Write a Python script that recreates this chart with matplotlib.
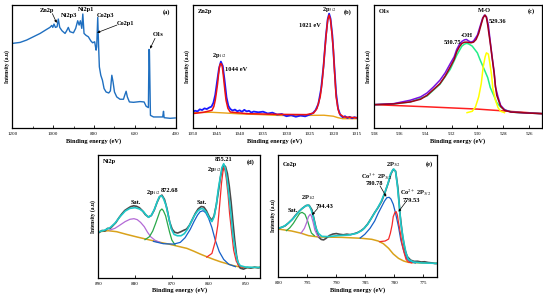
import matplotlib
matplotlib.use('Agg')
import matplotlib.pyplot as plt

plt.rcParams['font.family'] = ['Liberation Serif', 'DejaVu Serif']
plt.rcParams['mathtext.fontset'] = 'stix'
plt.rcParams['axes.linewidth'] = 0.9

# ---- (a) survey ----
survey_e = [1200, 1162, 1130, 1097, 1064, 1032, 1016, 1007, 1002, 996, 989, 981, 975, 968,
            957, 942, 934, 926, 918, 901, 890, 880, 873, 867, 860, 855, 849, 839, 828, 816,
            807, 797, 790, 787, 782, 777, 774, 767, 759, 751, 741, 728, 720, 713, 707, 700,
            689, 673, 656, 650, 643, 637, 627, 607, 575, 555, 545, 534, 531, 529, 524, 509,
            477, 464, 460, 457, 428, 403]
survey_i = [68.8, 69.6, 71.5, 74.2, 76.9, 80.2, 81.8, 83.4, 81.8, 84.5, 81.8, 82.3, 88.6, 81.8,
            79.1, 76.9, 79.1, 81.8, 78.3, 77.4, 81.0, 87.2, 83.7, 87.2, 81.0, 92.7, 76.9, 75.3,
            74.2, 70.9, 69.3, 70.1, 63.3, 66.0, 89.9, 63.3, 49.7, 42.9, 38.9, 32.1, 29.3, 28.5,
            30.2, 42.9, 37.5, 29.3, 25.3, 23.4, 23.4, 26.6, 29.9, 25.3, 21.2, 20.9, 21.5, 21.2,
            17.7, 16.6, 63.9, 63.0, 10.3, 9.0, 9.0, 9.0, 13.6, 8.4, 7.9, 8.2]

# ---- (b) Zn2p ----
zn_raw_e = [1050, 1049.5, 1049, 1048.5, 1048, 1047.5, 1047, 1046.5, 1046, 1045.6, 1045.2, 1044.8,
            1044.4, 1044.0, 1043.6, 1043.2, 1042.8, 1042.4, 1042, 1041.5, 1041, 1040.5, 1040,
            1039.5, 1039, 1038.5, 1038, 1037.5, 1037, 1036, 1035, 1034, 1033, 1032, 1031, 1030,
            1029, 1028, 1027, 1026, 1025, 1024.4, 1023.8, 1023.2, 1022.6, 1022.1, 1021.6, 1021.2,
            1020.9, 1020.6, 1020.2, 1019.8, 1019.4, 1019, 1018.5, 1018, 1017.5, 1017, 1016.5,
            1016, 1015.5, 1015]
zn_raw_i = [13.0, 14.1, 13.5, 15.2, 14.6, 16.0, 15.4, 16.6, 17.4, 20.5, 27.0, 38.0, 48.5, 54.0,
            50.5, 38.5, 25.0, 18.0, 15.5, 14.2, 15.0, 13.6, 14.4, 13.2, 14.8, 13.5, 14.0, 12.6,
            13.4, 12.8, 13.3, 11.8, 12.5, 10.9, 11.4, 9.6, 10.4, 9.2, 10.1, 9.5, 11.0, 12.0, 14.5,
            19.5, 32.0, 50.0, 74.0, 88.5, 93.0, 89.0, 75.0, 51.0, 28.0, 16.0, 10.5, 8.8, 9.6, 8.2,
            9.1, 7.9, 8.8, 8.3]
zn_fit_e = [1050.0, 1047.7, 1045.9, 1045.5, 1045.2, 1044.95, 1044.7, 1044.5, 1044.3, 1044.15,
            1044.0, 1043.85, 1043.7, 1043.5, 1043.3, 1043.1, 1042.9, 1042.5, 1042.0, 1038.5,
            1031.4, 1025.7, 1024.2, 1023.5, 1022.8, 1022.4, 1022.1, 1021.8, 1021.5, 1021.2,
            1020.9, 1020.6, 1020.3, 1020.0, 1019.8, 1019.6, 1019.4, 1019.0, 1018.7, 1017.8,
            1015.0]
zn_fit_i = [11.7, 12.8, 14.4, 17.5, 22.6, 29.0, 36.1, 43.5, 49.7, 51.8, 52.4, 51.8, 49.7, 43.5,
            36.1, 29.0, 22.6, 16.0, 13.0, 11.7, 11.1, 10.9, 12.2, 15.8, 25.3, 37.0, 49.7, 64.0,
            76.9, 87.8, 91.8, 87.8, 76.9, 64.0, 49.7, 37.0, 25.3, 15.5, 11.7, 9.0, 8.4]
zn_bg_e = [1050, 1046, 1043, 1040, 1036, 1032, 1028, 1025, 1022, 1020, 1019, 1018, 1015]
zn_bg_i = [12.5, 12.8, 12.2, 11.5, 11.0, 10.3, 10.0, 10.3, 10.4, 9.6, 8.4, 7.6, 7.6]

# ---- (c) O1s ----
o_bg_e = [538, 534, 530, 527, 525]
o_bg_i = [19.0, 17.3, 15.4, 13.2, 11.7]
o_fit_e = [538.0, 536.5, 535.2, 534.4, 533.9, 533.4, 532.9, 532.5, 532.1, 531.8, 531.6, 531.4,
           531.2, 531.0, 530.8, 530.5, 530.3, 530.1, 529.9, 529.7, 529.55, 529.4, 529.3, 529.2,
           529.0, 528.85, 528.7, 528.6, 528.5, 528.2, 527.9, 527.4, 526.1, 525.0]
o_fit_i = [19.0, 19.6, 21.2, 23.4, 26.6, 31.3, 36.1, 42.1, 49.7, 55.7, 62.0, 66.0, 68.8, 69.8,
           69.8, 69.3, 69.8, 72.0, 76.9, 84.5, 89.9, 91.8, 89.9, 83.7, 68.8, 56.5, 44.3, 34.0,
           26.6, 17.7, 14.4, 13.0, 12.2, 11.7]
o_raw_e = [538, 536.5, 535.2, 534.4, 533.9, 533.4, 532.9, 532.5, 532.1, 531.8, 531.6, 531.4,
           531.2, 531.0, 530.85, 530.7, 530.5, 530.3, 530.0, 529.8, 529.6, 529.45, 529.3, 529.15,
           529.0, 528.85, 528.7, 528.6, 528.4, 528.2, 527.9, 527.4, 526.1, 525.0]
o_raw_i = [19.0, 19.8, 22.6, 25.3, 28.5, 33.4, 38.9, 44.8, 52.4, 57.9, 63.9, 67.9, 70.4, 71.7,
           72.0, 70.9, 69.8, 70.7, 75.5, 82.3, 89.1, 91.8, 90.5, 83.7, 70.1, 57.3, 45.7, 33.4,
           25.3, 18.5, 14.9, 13.0, 12.2, 11.7]
o_oh_e = [538, 536.5, 535.2, 533.9, 532.9, 532.1, 531.6, 531.2, 531.0, 530.85, 530.7, 530.4,
          530.0, 529.8, 529.5, 529.2, 529.0, 528.7, 528.5, 528.2, 527.8, 527.2, 526.1, 525.0]
o_oh_i = [19.0, 19.6, 21.2, 26.1, 35.6, 47.8, 59.2, 66.6, 68.2, 68.8, 68.5, 66.6, 61.1, 55.7,
          48.4, 41.0, 32.9, 25.8, 20.7, 17.1, 14.4, 12.8, 12.2, 11.7]
o_mo_e = [530.8, 530.4, 530.15, 529.9, 529.7, 529.55, 529.4, 529.3, 529.15, 529.05, 528.9, 528.8,
          528.6, 528.4, 528.2, 527.9]
o_mo_i = [12.5, 13.6, 17.1, 25.3, 36.1, 49.7, 57.9, 61.1, 60.1, 53.8, 42.9, 32.1, 22.6, 16.6,
          13.6, 12.5]

# ---- (d) Ni2p ----
ni_bg_e = [889.7, 887.3, 885.0, 882.3, 879.5, 876.8, 873.2, 870.5, 868.6, 865.9, 864.1, 862.3,
           860.5, 858.6, 856.8, 855.0, 853.2, 851.4, 849.5, 845.9]
ni_bg_i = [37.5, 38.3, 37.5, 35.3, 33.2, 31.3, 28.8, 27.2, 25.8, 23.9, 21.7, 19.3, 17.1, 14.9,
           13.0, 11.4, 9.8, 8.7, 8.2, 8.4]
ni_raw_e = [889.7, 889, 888.2, 887.5, 886.8, 886, 885.2, 884.4, 883.6, 882.8, 882, 881.2, 880.4,
            879.6, 878.8, 878, 877.2, 876.4, 875.6, 874.8, 874, 873.3, 872.7, 872, 871.3, 870.6,
            869.9, 869.2, 868.4, 867.6, 866.8, 866, 865.2, 864.4, 863.6, 862.8, 862, 861.3,
            860.6, 859.8, 859.1, 858.5, 857.9, 857.3, 856.8, 856.3, 855.9, 855.4, 854.9, 854.4,
            853.9, 853.4, 852.9, 852.4, 851.9, 851.4, 850.5, 849.5, 848.5, 847.5, 846.5, 846]
ni_raw_i = [37.0, 38.5, 38.0, 40.2, 40.0, 42.5, 45.0, 48.8, 52.0, 54.8, 56.4, 57.9, 58.6, 58.2,
            57.0, 54.6, 51.4, 49.5, 50.6, 55.0, 61.5, 66.0, 67.3, 63.8, 56.0, 45.5, 39.5, 37.0,
            36.4, 37.4, 38.6, 39.6, 42.8, 47.6, 52.5, 56.2, 58.0, 57.6, 54.6, 49.5, 46.8, 50.5,
            59.5, 71.0, 81.5, 88.5, 91.8, 90.5, 85.0, 75.0, 62.0, 46.0, 30.5, 18.0, 10.5, 7.8,
            7.0, 8.3, 7.8, 8.6, 8.0, 8.4]
ni_env_e = [889.7, 888.2, 886.8, 885.5, 884.1, 882.7, 881.4, 880.0, 878.8, 877.7, 877.0, 876.3,
            875.5, 874.7, 873.9, 873.4, 872.8, 872.3, 871.6, 870.9, 870.2, 869.4, 868.5, 867.5,
            866.6, 865.7, 864.8, 863.9, 863.0, 862.1, 861.4, 860.6, 859.8, 859.1, 858.5, 857.9,
            857.4, 856.8, 856.4, 855.9, 855.5, 855.0, 854.5, 853.9, 853.4, 852.7, 852.1, 851.4,
            850.0, 847.7, 845.9]
ni_env_i = [37.5, 38.9, 40.8, 44.3, 49.7, 54.3, 56.5, 57.1, 56.0, 53.8, 51.1, 49.2, 51.1, 56.0,
            62.5, 66.0, 66.8, 64.7, 59.2, 49.7, 40.2, 35.3, 34.2, 34.2, 35.9, 39.7, 45.1, 50.5,
            54.3, 56.3, 56.0, 53.3, 48.4, 45.7, 49.7, 59.2, 71.5, 82.3, 89.7, 92.9, 89.7, 81.0,
            67.4, 51.1, 34.8, 21.2, 13.0, 9.8, 8.7, 8.4, 8.4]
ni_sat1_e = [886.8, 885.5, 884.1, 882.7, 881.4, 880.3, 879.4, 878.5, 877.5, 876.6, 875.7, 874.5, 873.2]
ni_sat1_i = [38.9, 40.2, 42.9, 45.7, 47.6, 48.1, 47.3, 45.1, 41.6, 37.0, 33.2, 30.4, 28.8]
ni_p12_e = [877.3, 876.1, 875.2, 874.4, 873.6, 873.2, 872.7, 872.3, 871.7, 871.2, 870.6, 870.0, 869.1]
ni_p12_i = [31.0, 33.4, 38.0, 44.3, 51.1, 54.6, 56.0, 54.6, 50.5, 44.3, 37.0, 30.7, 26.6]
ni_sat2_e = [875.0, 872.3, 869.5, 867.7, 866.4, 865.0, 863.9, 863.0, 862.3, 861.5, 860.8, 860.0,
             859.1, 858.2, 857.1, 855.9, 854.5, 852.7]
ni_sat2_i = [29.6, 27.7, 27.4, 28.8, 32.6, 39.4, 46.2, 51.1, 53.8, 54.6, 53.0, 48.4, 40.8, 30.7,
             21.2, 14.9, 10.9, 9.0]
ni_p32_e = [860.5, 859.1, 858.2, 857.5, 857.0, 856.5, 856.1, 855.8, 855.6, 855.2, 854.7, 854.3,
            853.7, 853.2, 852.5, 851.8, 850.6]
ni_p32_i = [16.8, 19.8, 29.3, 42.9, 59.2, 76.9, 86.4, 89.7, 88.6, 81.0, 67.4, 52.4, 36.1, 22.6,
            13.6, 9.8, 8.4]

# ---- (e) Co2p ----
co_bg_e = [800.0, 797.7, 796.0, 794.8, 793.1, 789.1, 785.6, 783.9, 782.8, 781.9, 781.0, 780.2,
           779.3, 778.4, 777.6, 775.3, 772.6]
co_bg_i = [39.3, 37.7, 35.8, 33.9, 32.8, 32.5, 31.7, 30.9, 29.5, 27.3, 23.5, 18.9, 15.3, 13.1,
           12.0, 11.5, 11.2]
co_raw_e = [800.0, 799.4, 798.8, 798.2, 797.6, 797.0, 796.4, 795.8, 795.2, 794.7, 794.2, 793.8,
            793.4, 793.0, 792.6, 792.2, 791.8, 791.2, 790.6, 790.0, 789.4, 788.8, 788.2, 787.6,
            787.0, 786.4, 785.8, 785.2, 784.6, 784.0, 783.4, 782.8, 782.2, 781.6, 781.0, 780.6,
            780.2, 779.8, 779.4, 779.0, 778.6, 778.2, 777.8, 777.2, 776.6, 776.0, 775.4, 774.8,
            774.2, 773.6, 773.0, 772.6]
co_raw_i = [39.6, 40.8, 42.0, 44.5, 47.2, 50.8, 54.0, 56.5, 58.6, 58.8, 55.0, 46.5, 38.0, 32.5,
            30.8, 30.4, 31.6, 34.0, 35.2, 35.6, 35.0, 34.6, 35.1, 34.7, 35.4, 36.3, 37.8, 40.0,
            43.5, 48.0, 52.8, 57.0, 62.0, 69.5, 78.0, 84.5, 88.2, 86.8, 73.0, 50.0, 33.5, 22.5,
            16.8, 13.8, 12.8, 12.9, 12.3, 12.5, 11.9, 11.6, 11.0, 11.1]
co_env_e = [800.0, 799.1, 798.3, 797.4, 796.7, 796.0, 795.4, 794.9, 794.6, 794.3, 793.9, 793.6,
            793.1, 792.5, 791.4, 789.7, 787.9, 786.5, 785.5, 784.6, 783.8, 783.0, 782.3, 781.7,
            781.1, 780.7, 780.3, 780.1, 779.8, 779.5, 779.2, 778.9, 778.4, 778.0, 777.6, 776.7,
            775.3, 772.6]
co_env_i = [39.9, 41.3, 44.0, 48.1, 52.2, 55.7, 57.9, 59.0, 57.9, 54.6, 48.1, 41.3, 35.8, 33.3,
            33.1, 33.9, 34.4, 35.8, 38.5, 43.2, 49.5, 55.7, 61.7, 68.6, 76.8, 84.2, 87.7, 88.5,
            86.3, 75.4, 60.4, 44.0, 29.0, 19.4, 14.5, 12.3, 11.5, 11.2]
co_sat_e = [798.6, 798.0, 797.4, 796.8, 796.3, 795.9, 795.4, 795.0, 794.6, 794.3, 793.8]
co_sat_i = [38.0, 40.4, 44.0, 48.6, 52.2, 53.0, 51.4, 46.7, 40.4, 36.1, 33.9]
co_p12_e = [796.1, 795.5, 795.1, 794.8, 794.5, 794.3, 794.0, 793.7, 793.3, 793.0]
co_p12_i = [35.8, 39.9, 44.8, 49.5, 51.4, 50.0, 44.8, 38.5, 34.4, 32.8]
co3_e = [785.9, 785.1, 784.2, 783.4, 782.8, 782.2, 781.7, 781.3, 780.9, 780.6, 780.2, 779.8,
         779.3, 778.9, 778.4, 777.9, 777.3, 776.4]
co3_i = [32.0, 35.0, 39.9, 45.9, 52.2, 57.7, 62.3, 65.0, 65.3, 63.9, 59.6, 52.2, 41.3, 30.3,
         21.3, 15.3, 12.6, 11.5]
co2_e = [782.5, 781.6, 781.0, 780.7, 780.4, 780.2, 779.9, 779.7, 779.5, 779.3, 779.0, 778.7,
         778.3, 778.0, 777.6, 777.0]
co2_i = [29.0, 29.5, 31.1, 35.8, 42.6, 49.5, 53.0, 53.6, 50.8, 44.8, 36.6, 27.6, 19.4, 14.5,
         12.3, 11.5]

fig = plt.figure(figsize=(5.43, 2.95), dpi=100)
ax_a = fig.add_axes([0.0227, 0.566, 0.301, 0.417])
ax_b = fig.add_axes([0.355, 0.566, 0.302, 0.417])
ax_c = fig.add_axes([0.689, 0.566, 0.309, 0.417])
ax_d = fig.add_axes([0.181, 0.0586, 0.298, 0.416])
ax_e = fig.add_axes([0.5125, 0.061, 0.293, 0.4136])

fs = 4.6
tick_fs = 3.6


def style(ax, xlim, xticks, minor=None):
    ax.set_xlim(xlim)
    ax.set_ylim(0, 100)
    ax.set_xticks(xticks)
    if minor is not None:
        ax.set_xticks(minor, minor=True)
    ax.set_yticks([])
    ax.tick_params(axis='x', direction='in', length=2, width=0.6, labelsize=tick_fs, pad=3)
    ax.tick_params(axis='x', which='minor', direction='in', length=1.2, width=0.5)
    ax.set_xlabel('Binding energy (eV)', fontsize=fs, fontweight='bold', labelpad=1.2)
    ax.set_ylabel('Intensity (a.u)', fontsize=fs - 0.6, fontweight='bold', labelpad=2)


def label(ax, x, y, s, ha='center'):
    ax.text(x, y, s, transform=ax.transAxes, fontsize=fs, fontweight='bold',
            ha=ha, va='center')


def arrow(ax, xy, xytext):
    ax.annotate('', xy=xy, xytext=xytext, textcoords='axes fraction',
                arrowprops=dict(arrowstyle='-|>', lw=0.5, color='k', mutation_scale=3.5,
                                shrinkA=0, shrinkB=0))


# (a)
ax_a.plot(survey_e, survey_i, color='#1f6fc0', lw=1.0)
style(ax_a, (1200, 400), [1200, 1000, 800, 600, 400], [1100, 900, 700, 500])
label(ax_a, 0.214, 0.959, 'Zn2p')
arrow(ax_a, (983, 85.5), (0.245, 0.93))
label(ax_a, 0.349, 0.913, 'Ni2p3')
label(ax_a, 0.451, 0.965, 'Ni2p1')
label(ax_a, 0.573, 0.911, 'Co2p3')
label(ax_a, 0.69, 0.846, 'Co2p1')
arrow(ax_a, (785, 77.5), (0.64, 0.837))
label(ax_a, 0.892, 0.764, 'O1s')
arrow(ax_a, (526, 64.5), (0.873, 0.729))
label(ax_a, 0.945, 0.941, '(a)')

# (b)
ax_b.plot(zn_bg_e, zn_bg_i, color='#e8a317', lw=1.0)
ax_b.plot(zn_raw_e, zn_raw_i, color='#1a1aff', lw=1.3)
ax_b.plot(zn_fit_e, zn_fit_i, color='#ee1111', lw=1.1)
style(ax_b, (1050, 1015), [1050, 1045, 1040, 1035, 1030, 1025, 1020, 1015])
label(ax_b, 0.03, 0.946, 'Zn2p', ha='left')
label(ax_b, 0.162, 0.59, '2p$_{1/2}$')
label(ax_b, 0.264, 0.472, '1044 eV')
label(ax_b, 0.833, 0.965, '2p$_{3/2}$')
label(ax_b, 0.715, 0.837, '1021 eV')
label(ax_b, 0.947, 0.94, '(b)')

# (c)
ax_c.plot(o_bg_e, o_bg_i, color='#ff2020', lw=1.1)
ax_c.plot(o_oh_e, o_oh_i, color='#22ee88', lw=1.1)
ax_c.plot(o_mo_e, o_mo_i, color='#ffff00', lw=1.1)
ax_c.plot(o_raw_e, o_raw_i, color='#7a10e0', lw=1.1)
ax_c.plot(o_fit_e, o_fit_i, color='#a00018', lw=1.1)
style(ax_c, (538, 525), [538, 536, 534, 532, 530, 528, 526])
label(ax_c, 0.025, 0.946, 'O1s', ha='left')
label(ax_c, 0.656, 0.959, 'M-O')
label(ax_c, 0.735, 0.87, '529.36')
label(ax_c, 0.553, 0.756, '-OH')
label(ax_c, 0.47, 0.697, '530.75')
label(ax_c, 0.935, 0.948, '(c)')

# (d)
ax_d.plot(ni_bg_e, ni_bg_i, color='#d9a21b', lw=1.1)
ax_d.plot(ni_raw_e, ni_raw_i, color='#4a4a4a', lw=1.2)
ax_d.plot(ni_sat1_e, ni_sat1_i, color='#b36ad6', lw=0.9)
ax_d.plot(ni_p12_e, ni_p12_i, color='#2aa84a', lw=0.9)
ax_d.plot(ni_sat2_e, ni_sat2_i, color='#1560c8', lw=0.9)
ax_d.plot(ni_p32_e, ni_p32_i, color='#f52a2a', lw=0.9)
ax_d.plot(ni_env_e, ni_env_i, color='#1ec8c8', lw=1.2)
style(ax_d, (890, 846), [890, 880, 870, 860, 850])
label(ax_d, 0.027, 0.945, 'Ni2p', ha='left')
label(ax_d, 0.233, 0.611, 'Sat.')
label(ax_d, 0.34, 0.693, '2p$_{1/2}$')
label(ax_d, 0.44, 0.707, '872.68')
label(ax_d, 0.641, 0.614, 'Sat.')
label(ax_d, 0.717, 0.878, '2p$_{3/2}$')
label(ax_d, 0.773, 0.965, '855.21')
label(ax_d, 0.944, 0.945, '(d)')

# (e)
ax_e.plot(co_bg_e, co_bg_i, color='#d9a21b', lw=1.1)
ax_e.plot(co_raw_e, co_raw_i, color='#4a4a4a', lw=1.2)
ax_e.plot(co_sat_e, co_sat_i, color='#2aa84a', lw=0.9)
ax_e.plot(co_p12_e, co_p12_i, color='#b36ad6', lw=0.9)
ax_e.plot(co3_e, co3_i, color='#1560c8', lw=0.9)
ax_e.plot(co2_e, co2_i, color='#f52a2a', lw=0.9)
ax_e.plot(co_env_e, co_env_i, color='#1ec8c8', lw=1.2)
style(ax_e, (800, 772.6), [800, 795, 790, 785, 780, 775])
label(ax_e, 0.031, 0.926, 'Co2p', ha='left')
label(ax_e, 0.948, 0.926, '(e)')
label(ax_e, 0.723, 0.918, '2P$_{3/2}$')
label(ax_e, 0.619, 0.822, 'Co$^{3+}$ 2P$_{3/2}$')
label(ax_e, 0.604, 0.768, '780.78')
arrow(ax_e, (781.4, 65.8), (0.64, 0.746))
label(ax_e, 0.86, 0.691, 'Co$^{2+}$ 2P$_{3/2}$')
label(ax_e, 0.839, 0.631, '779.53')
arrow(ax_e, (779.3, 53.5), (0.807, 0.625))
label(ax_e, 0.189, 0.65, '2P$_{1/2}$')
label(ax_e, 0.289, 0.576, '794.43')
arrow(ax_e, (794.2, 50.8), (0.248, 0.563))
label(ax_e, 0.094, 0.541, 'Sat.')

fig.savefig('out.png', dpi=100)
